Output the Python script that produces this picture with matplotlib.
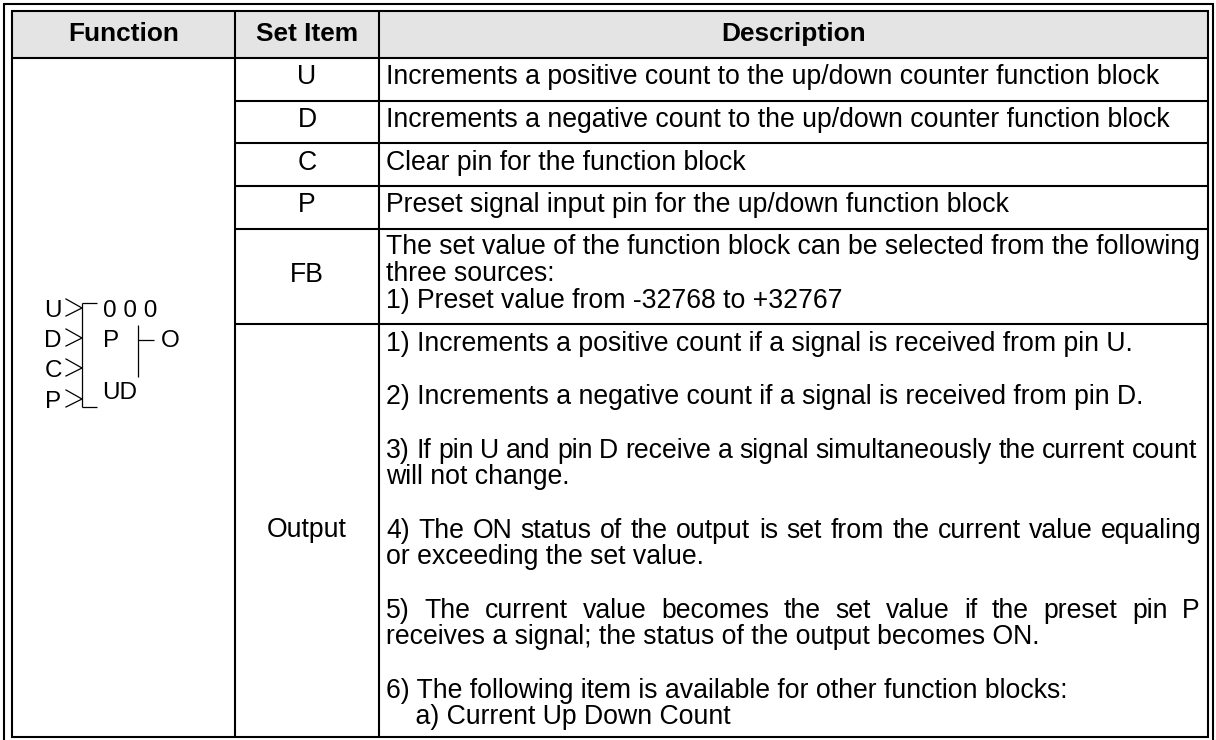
# function block table, drawn as plain lines and text

import matplotlib
matplotlib.use('Agg')
import matplotlib.pyplot as plt

#%% Input

W, H = 1216, 740

headers = ['Function', 'Set Item', 'Description']
set_items = ['U', 'D', 'C', 'P', 'FB', 'Output']
set_item_base = [84, 127, 170, 212, 282, 537]

descriptions = [
    'Increments a positive count to the up/down counter function block',
    'Increments a negative count to the up/down counter function block',
    'Clear pin for the function block',
    'Preset signal input pin for the up/down function block',
    'The set value of the function block can be selected from the following',
    'three sources:',
    '1) Preset value from -32768 to +32767',
]
description_base = [84, 127, 170, 212, 254, 281, 308]

# (text, baseline, right edge if the line is justified)
output_notes = [
    ('1) Increments a positive count if a signal is received from pin U.', 351, None),
    ('2) Increments a negative count if a signal is received from pin D.', 404, None),
    ('3) If pin U and pin D receive a signal simultaneously the current count', 458, 1197),
    ('will not change.', 484, None),
    ('4) The ON status of the output is set from the current value equaling', 538, 1202),
    ('or exceeding the set value.', 564, None),
    ('5) The current value becomes the set value if the preset pin P', 618, 1200),
    ('receives a signal; the status of the output becomes ON.', 644, None),
    ('6) The following item is available for other function blocks:', 698, None),
    ('    a) Current Up Down Count', 724, None),
]
pins = ['U', 'D', 'C', 'P']

col_x = [12, 235, 379, 1208]
row_y = [11, 58, 101, 143, 186, 229, 324, 737]
pin_y = [309, 339, 369, 400]
pin_base = [317, 347, 377, 408]

#%% Draw

plt.rcParams['font.family'] = ['Liberation Sans', 'DejaVu Sans']

fig = plt.figure(figsize=(W / 100, H / 100), dpi=100)
ax = fig.add_axes([0, 0, 1, 1])
ax.set_xlim(0, W)
ax.set_ylim(H, 0)
ax.axis('off')

fs = 19.2
lw = 1.5

def vline(x, y0, y1, w=lw):
    ax.plot([x, x], [y0, y1], color='black', linewidth=w, solid_capstyle='butt')

def hline(y, x0, x1, w=lw):
    ax.plot([x0, x1], [y, y], color='black', linewidth=w, solid_capstyle='butt')

def justified(x0, x1, y, line):
    # one text per word, gaps stretched so the line ends at x1
    rend = fig.canvas.get_renderer()
    words = line.split(' ')
    texts = [ax.text(x0, y, w, fontsize=fs, ha='left', va='baseline') for w in words]
    widths = [t.get_window_extent(rend).width for t in texts]
    gap = (x1 - x0 - sum(widths)) / (len(words) - 1)
    x = x0
    for t, w in zip(texts, widths):
        t.set_x(x)
        x += w + gap

# outer frame, open at the bottom
hline(4, 3, 1214)
vline(4, 4, 740)
vline(1213, 4, 740)

# header shading
ax.fill_between([col_x[0], col_x[3]], row_y[0], row_y[1], color='#e4e4e4', linewidth=0)

# table frame and grid
hline(row_y[0], col_x[0] - 1, col_x[3] + 1)
hline(row_y[1], col_x[0], col_x[3])
hline(row_y[7], col_x[0] - 1, col_x[3] + 1)
for y in row_y[2:7]:
    hline(y, col_x[1], col_x[3])
for x in col_x:
    vline(x, row_y[0], row_y[7])

# header text
for i, h in enumerate(headers):
    ax.text((col_x[i] + col_x[i + 1]) / 2, 41, h, fontsize=18.9, fontweight='bold',
            ha='center', va='baseline')

# set item column
for s, y in zip(set_items, set_item_base):
    ax.text((col_x[1] + col_x[2]) / 2, y, s, fontsize=fs, ha='center', va='baseline')

# description column
for d, y in zip(descriptions, description_base):
    ax.text(386, y, d, fontsize=fs, ha='left', va='baseline')
for line, y, right in output_notes:
    if right is None:
        ax.text(386, y, line, fontsize=fs, ha='left', va='baseline')
    else:
        justified(386, right, y, line)

# function block symbol
pin_fs = 17.5
for p, y, b in zip(pins, pin_y, pin_base):
    ax.text(53, b, p, fontsize=pin_fs, ha='center', va='baseline')
    ax.plot([66, 82, 66], [y - 10, y - 1, y + 7], color='black', linewidth=0.9)
vline(82, 303, 407, 0.9)
hline(303, 82, 97, 0.9)
hline(407, 82, 97, 0.9)
vline(138, 325, 377, 0.9)
hline(340, 138, 154, 0.9)
ax.text(103, 317, '0 0 0', fontsize=pin_fs, ha='left', va='baseline')
ax.text(103, 347, 'P', fontsize=pin_fs, ha='left', va='baseline')
ax.text(102, 399, 'UD', fontsize=pin_fs, ha='left', va='baseline')
ax.text(161, 347, 'O', fontsize=pin_fs, ha='left', va='baseline')

fig.savefig('out.png', dpi=100, facecolor='white')
